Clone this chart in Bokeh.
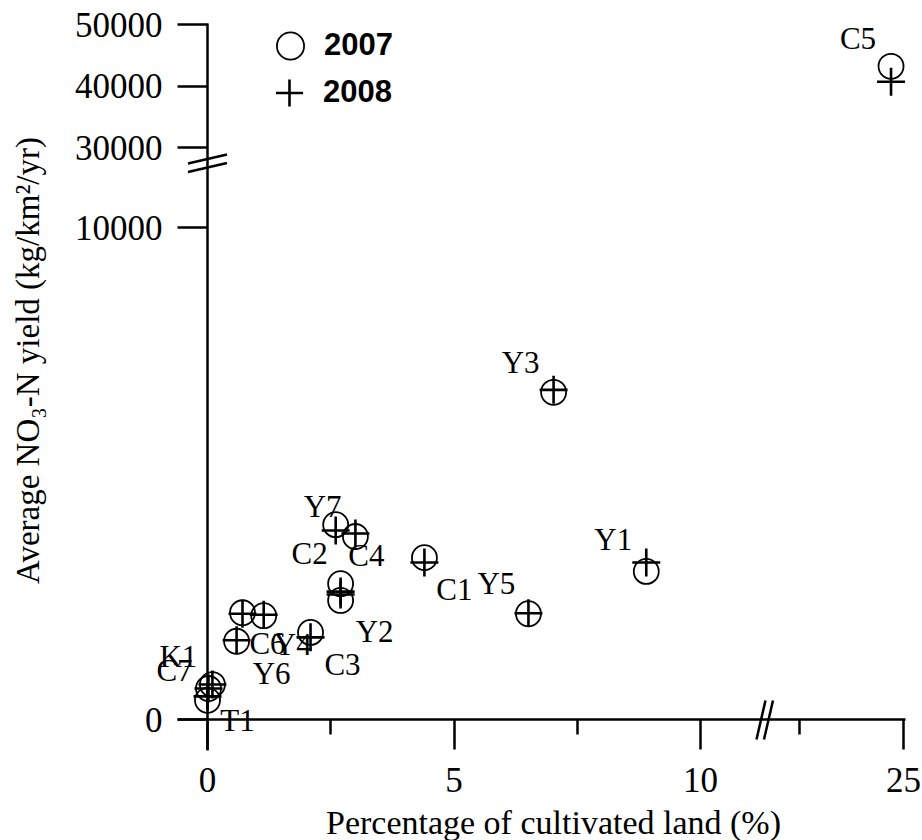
import math
from bokeh.plotting import figure
from bokeh.models import (Range1d, FixedTicker, ColumnDataSource, LabelSet, Label,
                          Legend, LegendItem)
from bokeh.core.properties import value
from bokeh.embed import file_html
from bokeh.resources import INLINE

# ---------------- data ----------------
stations = ["C5", "Y3", "Y1", "Y5", "C1", "C4", "Y7", "C2", "Y2", "C3",
            "C6", "Y4", "Y6", "K1", "T1", "C7"]
cultivated = [24.7, 7.02, 8.90, 6.51, 4.40, 3.00, 2.60, 2.70, 2.70, 2.09,
              0.71, 1.14, 0.59, 0.10, 0.02, 0.00]
yield_2007 = [43200, 6650, 3010, 2150, 3290, 3720, 3960, 2760, 2420, 1770,
              2170, 2110, 1590, 710, 630, 390]
yield_2008 = [40700, 6700, 3190, 2160, 3190, 3780, 3840, 2600, 2540, 1670,
              2150, 2130, 1610, 710, 630, 470]

x_tick_values = [0, 5, 10, 25]
x_minor_values = [2.5, 7.5, 22.5]
y_tick_values = [0, 10000, 30000, 40000, 50000]

x_title = "Percentage of cultivated land (%)"
y_title = "Average NO\u2083-N yield (kg/km\u00b2/yr)"
series_names = ["2007", "2008"]

# label placement (screen px, right / down)
label_dx = [-33, -33, -33, -32, 30, 11, -13, -31, 34, 32, 25, 29, 35, -34, 29, -33]
label_dy = [-28, -30, -32, -30, 32, 19, -18, -30, 31, 32, 31, 29, 32, -28, 32, -30]

# ------------- broken-axis scales -------------
W, H = 922, 840
X0_PX, Y0_PX = 207, 719          # pixel of the data origin
X_BREAK = 11.318                 # position of the x break on the drawing scale
Y_BREAK = 11301                  # position of the y break on the drawing scale
PX_X = 1 / 49.3                  # drawing units per pixel (x)
PX_Y = 1 / 0.0492                # drawing units per pixel (y)


def map_x(v):
    return v if v < 15 else 12.008 + (v - 22.5) * 0.844


def map_y(v):
    return v if v < 20000 else 11626 + (v - 30000) * 0.125


xu = [map_x(v) for v in cultivated]
yu07 = [map_y(v) for v in yield_2007]
yu08 = [map_y(v) for v in yield_2008]

src = ColumnDataSource(dict(x=xu, y07=yu07, y08=yu08, name=stations,
                            dx=label_dx, dy=[-d for d in label_dy]))

p = figure(width=W, height=H, min_border=0,
           x_range=Range1d(-X0_PX * PX_X, (W - X0_PX) * PX_X),
           y_range=Range1d(-(H - Y0_PX) * PX_Y, Y0_PX * PX_Y),
           output_backend="svg", toolbar_location=None,
           background_fill_color="white", border_fill_color="white")
p.xgrid.visible = False
p.ygrid.visible = False
p.outline_line_color = None

serif = "Liberation Serif"

# x axis
xa = p.xaxis[0]
xa.fixed_location = 0
xa.bounds = (-30 * PX_X, 698 * PX_X)
xa.ticker = FixedTicker(ticks=[map_x(v) for v in x_tick_values],
                        minor_ticks=[map_x(v) for v in x_minor_values])
xa.major_label_overrides = {map_x(v): str(v) for v in x_tick_values}

# y axis
ya = p.yaxis[0]
ya.fixed_location = 0
ya.bounds = (-31 * PX_Y, 696 * PX_Y)
ya.ticker = FixedTicker(ticks=[map_y(v) for v in y_tick_values], minor_ticks=[])
ya.major_label_overrides = {map_y(v): str(v) for v in y_tick_values}

for ax in (xa, ya):
    ax.axis_line_width = 2.5
    ax.axis_line_color = "black"
    ax.major_tick_line_width = 2.5
    ax.major_tick_line_color = "black"
    ax.major_tick_out = 30
    ax.major_tick_in = 0
    ax.minor_tick_line_width = 2.5
    ax.minor_tick_line_color = "black"
    ax.minor_tick_out = 15
    ax.minor_tick_in = 0
    ax.major_label_text_font = serif
    ax.major_label_text_font_size = "35px"
    ax.major_label_text_color = "black"

xa.major_label_standoff = 18
ya.major_label_standoff = 15
ya.major_label_orientation = "horizontal"

# axis titles
p.add_layout(Label(x=553, y=H - 822, x_units="screen", y_units="screen",
                   text=x_title, text_font=serif, text_font_size="34px",
                   text_color="black", text_align="center", text_baseline="middle"))
p.add_layout(Label(x=27, y=H - 360, x_units="screen", y_units="screen",
                   text=y_title, angle=math.pi / 2, text_font=serif,
                   text_font_size="33px", text_color="black",
                   text_align="center", text_baseline="middle"))

# break marks
for off in (-4.5, 4.0):
    c = Y_BREAK - off * PX_Y
    p.line([-19.5 * PX_X, 19.5 * PX_X], [c - 4.5 * PX_Y, c + 4.5 * PX_Y],
           line_color="black", line_width=2.5)
for off in (-4.5, 3.0):
    c = X_BREAK + off * PX_X
    p.line([c - 4.5 * PX_X, c + 4.5 * PX_X], [-20 * PX_Y, 19 * PX_Y],
           line_color="black", line_width=2.5)

# points
r07 = p.scatter("x", "y07", source=src, marker="circle", size=25,
                fill_color=None, line_color="black", line_width=1.8)
r08 = p.scatter("x", "y08", source=src, marker="cross", size=28,
                line_color="black", line_width=2.6)

labels = LabelSet(x="x", y="y07", text="name", x_offset="dx", y_offset="dy",
                  source=src, text_align="center", text_baseline="middle",
                  text_font=value(serif), text_font_size="31px",
                  text_color="black")
p.add_layout(labels)

# legend (one box per row so the glyphs can be large)
for name, rend, (lx, cy) in zip(series_names, [r07, r08], [(256, 45), (255, 92)]):
    lg = Legend(items=[LegendItem(label=name, renderers=[rend])],
                location=(lx, H - (cy + 37.5)), orientation="vertical",
                glyph_width=68, glyph_height=75, spacing=0,
                label_standoff=0, padding=0, margin=0,
                border_line_color=None, background_fill_alpha=0,
                label_text_font="Liberation Sans", label_text_font_style="bold",
                label_text_font_size="31px", label_text_color="black")
    p.add_layout(lg)

open("out.html", "w").write(file_html(p, INLINE))
